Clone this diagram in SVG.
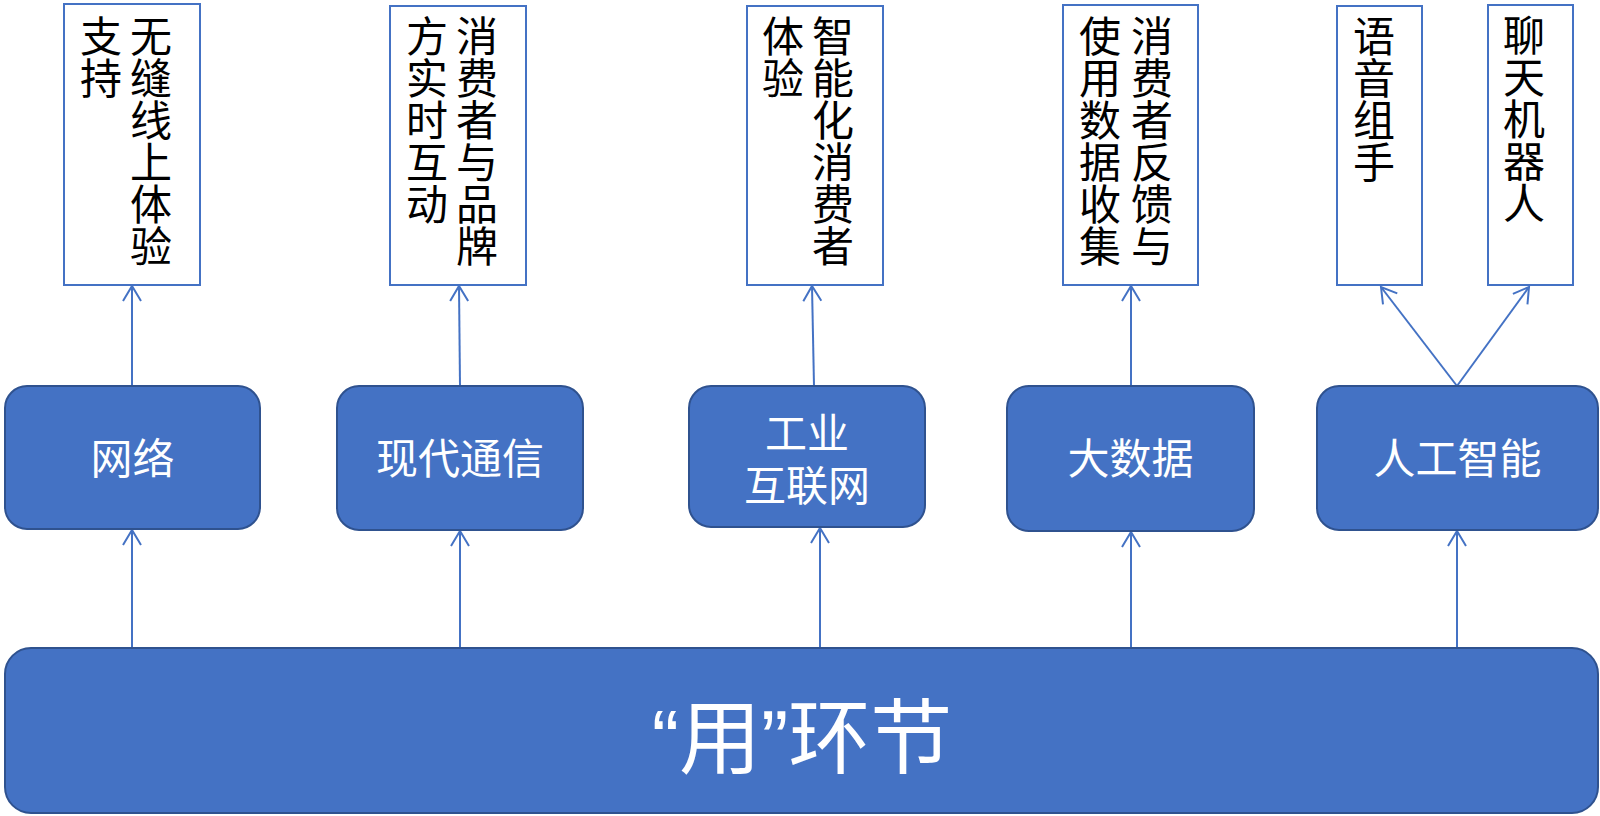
<svg xmlns="http://www.w3.org/2000/svg" width="1600" height="816" viewBox="0 0 1600 816">
<style>
  text { font-family: "Liberation Sans", "Noto Sans CJK SC", sans-serif; }
  .top rect { fill: #ffffff; stroke: #4472C4; stroke-width: 2; }
  .top text { fill: #000000; font-size: 42px; text-anchor: middle; }
  .mid rect { fill: #4472C4; stroke: #2F528F; stroke-width: 2; }
  .mid text { fill: #ffffff; font-size: 42px; text-anchor: middle; }
  .conn { stroke: #4472C4; stroke-width: 2; fill: none; marker-end: url(#arr); }
</style>
<defs>
  <marker id="arr" markerUnits="userSpaceOnUse" markerWidth="20" markerHeight="22" refX="0" refY="0" viewBox="-17 -11 19 22" orient="auto" overflow="visible">
    <path d="M-15,-9 L0,0 L-15,9" fill="none" stroke="#4472C4" stroke-width="2"/>
  </marker>
</defs>
<rect width="1600" height="816" fill="#ffffff"/>

<g id="connectors">
  <line class="conn" x1="132" y1="648" x2="132" y2="530"/>
  <line class="conn" x1="460" y1="648" x2="460" y2="531"/>
  <line class="conn" x1="820" y1="648" x2="820" y2="528"/>
  <line class="conn" x1="1131" y1="648" x2="1131" y2="532"/>
  <line class="conn" x1="1457" y1="648" x2="1457" y2="531"/>
  <line class="conn" x1="132" y1="386" x2="132" y2="286"/>
  <line class="conn" x1="460" y1="386" x2="459" y2="286"/>
  <line class="conn" x1="814" y1="386" x2="812" y2="286"/>
  <line class="conn" x1="1131" y1="386" x2="1131" y2="286"/>
  <line class="conn" x1="1457" y1="386" x2="1381" y2="287"/>
  <line class="conn" x1="1457" y1="386" x2="1529" y2="287"/>
</g>

<g id="top1" class="top">
  <rect x="64" y="4" width="136" height="281"/>
  <text x="151 151 151 151 151 151" y="52 94 136 178 220 262">无缝线上体验</text>
  <text x="101 101" y="52 94">支持</text>
</g>
<g id="top2" class="top">
  <rect x="390" y="6" width="136" height="279"/>
  <text x="477 477 477 477 477 477" y="52 94 136 178 220 262">消费者与品牌</text>
  <text x="427 427 427 427 427" y="52 94 136 178 220">方实时互动</text>
</g>
<g id="top3" class="top">
  <rect x="747" y="6" width="136" height="279"/>
  <text x="833 833 833 833 833 833" y="52 94 136 178 220 262">智能化消费者</text>
  <text x="783 783" y="52 94">体验</text>
</g>
<g id="top4" class="top">
  <rect x="1063" y="5" width="135" height="280"/>
  <text x="1152 1152 1152 1152 1152 1152" y="52 94 136 178 220 262">消费者反馈与</text>
  <text x="1100 1100 1100 1100 1100 1100" y="52 94 136 178 220 262">使用数据收集</text>
</g>
<g id="top5" class="top">
  <rect x="1337" y="6" width="85" height="279"/>
  <text x="1374 1374 1374 1374" y="52 94 136 178">语音组手</text>
</g>
<g id="top6" class="top">
  <rect x="1488" y="5" width="85" height="280"/>
  <text x="1524 1524 1524 1524 1524" y="51 93 135 177 219">聊天机器人</text>
</g>

<g id="mid1" class="mid">
  <rect x="5" y="386" width="255" height="143" rx="22"/>
  <text x="132.5" y="474">网络</text>
</g>
<g id="mid2" class="mid">
  <rect x="337" y="386" width="246" height="144" rx="22"/>
  <text x="460" y="474">现代通信</text>
</g>
<g id="mid3" class="mid">
  <rect x="689" y="386" width="236" height="141" rx="22"/>
  <text x="807" y="449">工业</text>
  <text x="807" y="501">互联网</text>
</g>
<g id="mid4" class="mid">
  <rect x="1007" y="386" width="247" height="145" rx="22"/>
  <text x="1130.5" y="474">大数据</text>
</g>
<g id="mid5" class="mid">
  <rect x="1317" y="386" width="281" height="144" rx="22"/>
  <text x="1457.5" y="474">人工智能</text>
</g>

<g id="bottom">
  <rect x="5" y="648" width="1593" height="165" rx="26" fill="#4472C4" stroke="#2F528F" stroke-width="2"/>
  <text x="802" y="767" font-size="82" fill="#ffffff" text-anchor="middle">“用”环节</text>
</g>
</svg>
